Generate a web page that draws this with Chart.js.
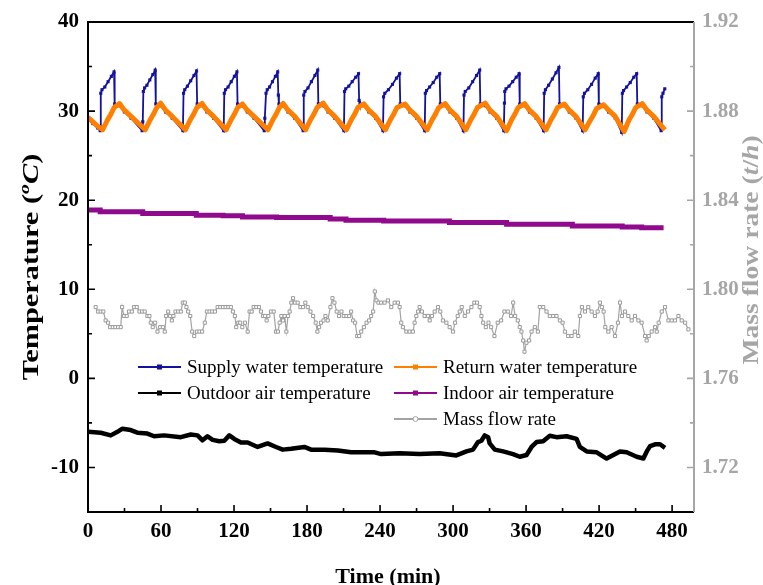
<!DOCTYPE html>
<html>
<head>
<meta charset="utf-8">
<script src="https://cdn.jsdelivr.net/npm/chart.js@4.4.0/dist/chart.umd.min.js"></script>
<style>
  html, body { margin: 0; padding: 0; background: #fff; }
  canvas { display: block; }
</style>
</head>
<body>
<canvas id="chart" width="763" height="585"></canvas>
<script>
/* Supply / return water, indoor / outdoor air and mass flow over 8 hours */

const SERIF = '"Liberation Serif", "Times New Roman", serif';
const SUPPLY = '#12129e';
const RETURN = '#ff8000';
const OUTDOOR = '#000000';
const INDOOR = '#8f0a8c';
const FLOW = '#a3a3a3';
const AXIS_GRAY = '#a6a6a6';

// tick labels
const timeTicks = [0, 60, 120, 180, 240, 300, 360, 420, 480];
const timeMinor = [30, 90, 150, 210, 270, 330, 390, 450];
const tempTicks = [-10, 0, 10, 20, 30, 40];
const tempMinor = [-5, 5, 15, 25, 35];
const flowTicks = [1.72, 1.76, 1.80, 1.84, 1.88, 1.92];
const flowMinor = [1.74, 1.78, 1.82, 1.86, 1.90];

// supply water temperature (min, °C)
const supplyTime = [
    0, 4, 8, 10,
    10.5, 11.5, 13.8, 16.5, 19.2, 21.4, 21.9, 25.9, 29.9, 35.4,
    44.5, 45.0, 45.5, 46.5, 48.4, 50.8, 53.3, 55.2, 55.7, 59.7, 63.7, 69.2,
    78.0, 78.5, 79.5, 81.7, 84.4, 87.1, 89.2, 89.7, 93.7, 97.7, 103.2,
    111.5, 112.0, 113.0, 115.1, 117.7, 120.3, 122.4, 122.9, 126.9, 130.9, 136.4,
    144.8, 145.3, 146.3, 147.3, 149.2, 151.6, 154.0, 155.9, 156.4, 156.9, 160.4, 164.4, 169.9,
    176.8, 177.3, 178.3, 180.8, 183.6, 186.5, 188.8, 189.3, 193.3, 197.3, 202.8,
    210.3, 210.8, 211.8, 214.3, 217.1, 220.0, 222.3, 222.8, 223.5, 226.8, 230.8, 236.3,
    242.4, 242.9, 243.9, 246.9, 250.2, 253.5, 256.1, 256.6, 260.6, 264.6, 270.1,
    276.7, 277.2, 278.2, 280.7, 283.7, 286.6, 289.0, 289.5, 293.5, 297.5, 303.0,
    308.5, 309.0, 310.0, 312.9, 316.1, 319.3, 321.9, 322.4, 326.4, 330.4, 335.9,
    341.7, 342.2, 342.5, 343.5, 346.0, 349.0, 351.9, 354.3, 354.8, 358.8, 362.8, 368.3,
    374.4, 374.9, 375.9, 378.5, 381.6, 384.6, 387.0, 387.5, 391.5, 395.5, 401.0,
    406.5, 407.0, 408.0, 410.7, 413.8, 416.8, 419.3, 419.8, 423.8, 427.8, 433.3,
    438.6, 439.1, 440.1, 442.6, 445.6, 448.5, 450.9, 451.4, 455.4, 459.4, 464.9,
    471.0, 471.5, 472.5, 474.0
];
const supplyTemp = [
    29.1, 28.6, 28.1, 27.8,
    32.0, 32.4, 32.7, 33.3, 33.9, 34.4, 30.8, 30.6, 29.9, 29.2,
    27.8, 28.8, 32.2, 32.6, 32.9, 33.5, 34.1, 34.6, 30.8, 30.6, 29.9, 29.2,
    27.8, 32.0, 32.4, 32.8, 33.4, 34.0, 34.5, 30.8, 30.6, 29.9, 29.2,
    27.8, 32.0, 32.4, 32.7, 33.3, 33.9, 34.4, 30.8, 30.6, 29.9, 29.2,
    27.8, 29.2, 32.0, 32.4, 32.7, 33.3, 33.9, 34.4, 31.8, 30.8, 30.6, 29.9, 29.2,
    27.8, 31.8, 32.2, 32.6, 33.3, 34.0, 34.6, 30.8, 30.6, 29.9, 29.2,
    27.8, 32.2, 32.5, 32.8, 33.3, 33.8, 34.2, 31.2, 30.8, 30.6, 29.9, 29.2,
    27.8, 31.6, 32.0, 32.4, 33.0, 33.7, 34.2, 30.8, 30.6, 29.9, 29.2,
    27.8, 32.0, 32.3, 32.7, 33.2, 33.8, 34.2, 30.8, 30.6, 29.9, 29.2,
    27.8, 31.8, 32.2, 32.6, 33.3, 34.0, 34.6, 30.8, 30.6, 29.9, 29.2,
    27.8, 30.9, 32.2, 32.5, 32.8, 33.3, 33.8, 34.2, 30.8, 30.6, 29.9, 29.2,
    27.8, 32.0, 32.4, 32.9, 33.6, 34.3, 34.9, 30.8, 30.6, 29.9, 29.2,
    27.8, 31.6, 32.0, 32.4, 33.0, 33.7, 34.2, 30.8, 30.6, 29.9, 29.2,
    27.6, 32.0, 32.3, 32.7, 33.2, 33.8, 34.2, 30.8, 30.6, 29.9, 29.2,
    27.8, 31.6, 32.0, 32.5
];

// return water temperature
const returnTime = [
    0, 4, 8,
    12.0, 16.0, 19.0, 21.5, 25.9, 29.9, 35.4,
    47.0, 51.0, 54.0, 56.5, 59.7, 63.7, 69.2,
    80.0, 84.0, 87.0, 89.5, 93.7, 97.7, 103.2,
    113.5, 117.5, 120.5, 123.0, 126.9, 130.9, 136.4,
    147.8, 151.8, 154.8, 157.3, 160.4, 164.4, 169.9,
    178.8, 182.8, 185.8, 188.3, 193.3, 197.3, 202.8,
    212.3, 216.3, 219.3, 221.8, 226.8, 230.8, 236.3,
    244.4, 248.4, 251.4, 253.9, 260.6, 264.6, 270.1,
    278.7, 282.7, 285.7, 288.2, 293.5, 297.5, 303.0,
    310.5, 314.5, 317.5, 320.0, 326.4, 330.4, 335.9,
    344.0, 348.0, 351.0, 353.5, 358.8, 362.8, 368.3,
    376.4, 380.4, 383.4, 385.9, 391.5, 395.5, 401.0,
    408.5, 412.5, 415.5, 418.0, 423.8, 427.8, 433.3,
    440.6, 444.6, 447.6, 450.1, 455.4, 459.4, 464.9,
    474.0
];
const returnTemp = [
    29.3, 28.8, 28.3,
    27.9, 29.0, 29.7, 30.4, 30.85, 30.1, 29.4,
    27.9, 29.0, 29.7, 30.4, 30.9, 30.1, 29.4,
    27.9, 29.0, 29.7, 30.4, 30.85, 30.1, 29.4,
    27.9, 29.0, 29.7, 30.4, 30.8, 30.1, 29.4,
    27.9, 29.0, 29.7, 30.4, 30.85, 30.1, 29.4,
    27.9, 29.0, 29.7, 30.4, 30.9, 30.1, 29.4,
    27.9, 29.0, 29.7, 30.4, 30.8, 30.1, 29.4,
    27.9, 29.0, 29.7, 30.4, 30.8, 30.1, 29.4,
    27.9, 29.0, 29.7, 30.4, 30.85, 30.1, 29.4,
    27.9, 29.0, 29.7, 30.4, 30.9, 30.1, 29.4,
    27.8, 29.0, 29.7, 30.4, 30.85, 30.1, 29.4,
    27.9, 29.0, 29.7, 30.4, 30.8, 30.1, 29.4,
    27.9, 28.9, 29.6, 30.3, 30.7, 30.1, 29.4,
    27.7, 29.0, 29.7, 30.4, 30.85, 30.1, 29.4,
    27.9
];

// indoor air temperature (stepped)
const indoorTime = [0, 10, 45, 89, 111, 127, 155, 199, 212, 243, 297, 344, 398, 439, 455, 473];
const indoorTemp = [18.9, 18.7, 18.5, 18.3, 18.25, 18.1, 18.05, 17.9, 17.75, 17.65, 17.5, 17.3, 17.1, 17.0, 16.9, 16.9];

// outdoor air temperature
const outdoorTime = [
    0, 10.4, 18.7, 24.2, 28.3, 35.1, 40.6, 48.8, 54.3, 62.6,
    76.3, 84.5, 90.0, 94.1, 98.2, 102.4, 107.9, 112.0, 116.1, 120.2,
    125.7, 131.2, 139.4, 147.6, 154.5, 160.0, 166.9, 177.8, 183.3, 194.3,
    205.3, 216.3, 227.2, 235.5, 241.0, 256.0, 272.5, 289.0, 302.7, 311.0,
    316.4, 320.5, 323.3, 326.0, 328.8, 330.1, 334.3, 341.1, 349.3, 354.8,
    360.4, 364.5, 368.6, 374.0, 379.5, 385.0, 393.3, 401.5, 404.2, 409.8,
    418.0, 426.2, 431.7, 437.2, 442.7, 450.9, 456.4, 459.2, 461.9, 466.0,
    470.1, 474.2
];
const outdoorTemp = [
    -6.0, -6.1, -6.4, -6.0, -5.65, -5.8, -6.1, -6.2, -6.5, -6.4,
    -6.6, -6.3, -6.4, -6.95, -6.5, -6.9, -7.05, -7.0, -6.4, -6.8,
    -7.2, -7.2, -7.7, -7.3, -7.7, -8.0, -7.9, -7.7, -8.0, -8.0,
    -8.1, -8.3, -8.3, -8.3, -8.5, -8.4, -8.5, -8.4, -8.65, -8.2,
    -8.0, -7.15, -7.0, -6.4, -6.6, -7.3, -8.0, -8.2, -8.5, -8.8,
    -8.6, -7.7, -7.15, -7.05, -6.45, -6.6, -6.5, -6.8, -7.7, -8.2,
    -8.3, -9.0, -8.6, -8.2, -8.3, -8.8, -9.0, -8.2, -7.6, -7.4,
    -7.4, -7.8
];

// mass flow rate (t/h)
const flowTime = [
    6.3, 8.2, 10.4, 12.6, 14.5, 16.5, 18.1, 20.3, 22.5, 24.7,
    26.9, 28.0, 29.6, 31.8, 33.7, 36.0, 37.9, 40.1, 42.3, 44.5,
    46.6, 48.8, 50.5, 51.6, 53.2, 55.2, 57.1, 59.3, 61.5, 63.1,
    64.2, 65.9, 67.5, 68.9, 70.2, 71.9, 74.1, 76.3, 77.9, 79.6,
    80.9, 82.3, 84.0, 85.6, 87.3, 89.5, 91.6, 93.8, 96.0, 97.7,
    99.9, 102.1, 104.3, 106.5, 108.7, 110.9, 113.1, 115.3, 117.4, 119.1,
    120.7, 121.8, 123.5, 125.1, 126.8, 129.0, 131.2, 132.8, 134.5, 136.1,
    138.3, 140.5, 142.1, 143.8, 145.4, 146.8, 148.2, 150.4, 152.6, 154.5,
    156.1, 157.5, 158.9, 160.3, 161.6, 163.0, 164.4, 165.7, 167.1, 168.5,
    170.1, 172.3, 174.5, 176.7, 178.6, 180.6, 182.8, 185.0, 187.1, 188.5,
    189.9, 191.5, 193.5, 195.1, 197.0, 199.2, 200.9, 202.5, 204.4, 206.3,
    208.3, 210.2, 212.4, 214.6, 216.2, 217.9, 219.5, 221.2, 222.8, 224.5,
    226.7, 228.9, 231.0, 232.7, 234.3, 235.7, 237.1, 238.7, 240.9, 243.7,
    246.5, 249.2, 252.0, 254.7, 256.1, 257.4, 258.8, 261.6, 264.3, 267.0,
    268.4, 269.8, 271.2, 272.5, 274.4, 276.6, 279.4, 280.8, 282.7, 284.9,
    287.6, 289.5, 291.7, 294.5, 297.2, 300.0, 301.6, 303.8, 305.5, 307.1,
    309.6, 312.3, 315.1, 317.5, 319.7, 321.9, 323.3, 324.7, 326.9, 329.1,
    331.3, 334.0, 336.7, 339.5, 342.2, 345.0, 347.7, 349.4, 351.0, 353.2,
    354.8, 356.2, 357.6, 358.7, 360.3, 362.5, 364.5, 367.2, 369.7, 371.3,
    374.1, 376.8, 379.5, 382.3, 385.0, 387.8, 390.0, 391.9, 394.6, 397.4,
    400.1, 402.9, 404.2, 405.9, 408.4, 411.1, 413.9, 416.6, 418.8, 420.7,
    422.3, 423.7, 425.1, 427.6, 430.3, 433.1, 435.5, 437.2, 438.8, 441.3,
    444.0, 446.8, 449.5, 452.3, 455.0, 457.8, 459.1, 460.8, 463.2, 466.0,
    467.4, 469.0, 471.5, 474.2, 477.0, 479.7, 482.4, 485.2, 487.9, 490.7,
    493.4
];
const flowRate = [
    1.792, 1.790, 1.790, 1.790, 1.786, 1.785, 1.783, 1.783, 1.783, 1.783,
    1.783, 1.792, 1.788, 1.788, 1.790, 1.790, 1.792, 1.792, 1.790, 1.790,
    1.790, 1.788, 1.788, 1.785, 1.783, 1.785, 1.781, 1.783, 1.783, 1.781,
    1.788, 1.790, 1.788, 1.786, 1.788, 1.790, 1.790, 1.790, 1.794, 1.794,
    1.792, 1.790, 1.788, 1.781, 1.779, 1.781, 1.781, 1.781, 1.785, 1.790,
    1.790, 1.790, 1.790, 1.792, 1.792, 1.792, 1.792, 1.792, 1.792, 1.790,
    1.788, 1.783, 1.785, 1.785, 1.783, 1.785, 1.781, 1.790, 1.790, 1.792,
    1.792, 1.792, 1.790, 1.788, 1.788, 1.786, 1.788, 1.790, 1.790, 1.781,
    1.781, 1.785, 1.788, 1.786, 1.788, 1.781, 1.788, 1.790, 1.794, 1.796,
    1.794, 1.794, 1.792, 1.792, 1.794, 1.792, 1.790, 1.788, 1.785, 1.781,
    1.783, 1.785, 1.786, 1.788, 1.786, 1.792, 1.796, 1.794, 1.790, 1.788,
    1.790, 1.788, 1.788, 1.788, 1.790, 1.786, 1.785, 1.779, 1.779, 1.781,
    1.783, 1.785, 1.786, 1.788, 1.790, 1.799, 1.795, 1.794, 1.794, 1.794,
    1.795, 1.792, 1.794, 1.794, 1.792, 1.785, 1.783, 1.781, 1.781, 1.781,
    1.785, 1.788, 1.790, 1.792, 1.790, 1.788, 1.788, 1.786, 1.788, 1.790,
    1.792, 1.790, 1.786, 1.785, 1.783, 1.781, 1.785, 1.788, 1.790, 1.792,
    1.788, 1.790, 1.792, 1.794, 1.794, 1.792, 1.788, 1.785, 1.783, 1.785,
    1.783, 1.779, 1.785, 1.786, 1.790, 1.790, 1.788, 1.794, 1.788, 1.786,
    1.783, 1.781, 1.777, 1.772, 1.776, 1.777, 1.781, 1.783, 1.781, 1.792,
    1.792, 1.790, 1.788, 1.788, 1.788, 1.786, 1.785, 1.781, 1.779, 1.779,
    1.781, 1.779, 1.788, 1.792, 1.790, 1.792, 1.790, 1.788, 1.790, 1.794,
    1.792, 1.790, 1.783, 1.781, 1.783, 1.779, 1.785, 1.794, 1.788, 1.790,
    1.788, 1.786, 1.788, 1.786, 1.785, 1.779, 1.777, 1.779, 1.781, 1.783,
    1.781, 1.785, 1.790, 1.792, 1.786, 1.786, 1.786, 1.788, 1.786, 1.785,
    1.782
];

const legendItems = [
    { label: 'Supply water temperature', color: SUPPLY, col: 0, row: 0, marker: 'rect' },
    { label: 'Return water temperature', color: RETURN, col: 1, row: 0, marker: 'rect' },
    { label: 'Outdoor air temperature', color: OUTDOOR, col: 0, row: 1, marker: 'rect' },
    { label: 'Indoor air temperature', color: INDOOR, col: 1, row: 1, marker: 'rect' },
    { label: 'Mass flow rate', color: FLOW, col: 1, row: 2, marker: 'circle' },
];

const pts = (xs, ys) => xs.map((x, i) => ({ x, y: ys[i] }));

// draws a run of differently styled text pieces centred on (cx, cy)
function drawRich(ctx, parts, cx, cy, rot, stretch, color) {
    ctx.save();
    ctx.translate(cx, cy);
    ctx.rotate(rot);
    ctx.scale(stretch, 1);
    ctx.fillStyle = color;
    ctx.textBaseline = 'alphabetic';
    ctx.textAlign = 'left';
    let total = 0;
    parts.forEach(p => { ctx.font = p.font; p.w = ctx.measureText(p.t).width; total += p.w; });
    let px = -total / 2;
    parts.forEach(p => { ctx.font = p.font; ctx.fillText(p.t, px, 8 + (p.dy || 0)); px += p.w; });
    ctx.restore();
}

const axisFrame = {
    id: 'axisFrame',
    afterDraw(chart) {
        const { ctx, chartArea: a } = chart;
        const { x, y, y1 } = chart.scales;
        ctx.save();

        // inward ticks
        ctx.lineWidth = 1.6;
        ctx.strokeStyle = '#000';
        ctx.beginPath();
        tempTicks.forEach(v => { const p = y.getPixelForValue(v); ctx.moveTo(a.left, p); ctx.lineTo(a.left + 7, p); });
        tempMinor.forEach(v => { const p = y.getPixelForValue(v); ctx.moveTo(a.left, p); ctx.lineTo(a.left + 4, p); });
        timeTicks.forEach(v => { const p = x.getPixelForValue(v); ctx.moveTo(p, a.bottom); ctx.lineTo(p, a.bottom - 7); });
        timeMinor.forEach(v => { const p = x.getPixelForValue(v); ctx.moveTo(p, a.bottom); ctx.lineTo(p, a.bottom - 4); });
        ctx.stroke();
        ctx.strokeStyle = AXIS_GRAY;
        ctx.beginPath();
        flowTicks.forEach(v => { const p = y1.getPixelForValue(v); ctx.moveTo(a.right, p); ctx.lineTo(a.right - 7, p); });
        flowMinor.forEach(v => { const p = y1.getPixelForValue(v); ctx.moveTo(a.right, p); ctx.lineTo(a.right - 4, p); });
        ctx.stroke();

        // frame
        ctx.lineWidth = 2;
        ctx.strokeStyle = '#000';
        ctx.beginPath();
        ctx.moveTo(a.right, a.top);
        ctx.lineTo(a.left, a.top);
        ctx.lineTo(a.left, a.bottom);
        ctx.lineTo(a.right, a.bottom);
        ctx.stroke();
        ctx.strokeStyle = AXIS_GRAY;
        ctx.beginPath();
        ctx.moveTo(a.right, a.top);
        ctx.lineTo(a.right, a.bottom);
        ctx.stroke();

        // legend
        const colX = [138, 394];
        const rowY = [367, 393, 419];
        ctx.font = '19px ' + SERIF;
        ctx.textBaseline = 'middle';
        ctx.textAlign = 'left';
        legendItems.forEach(it => {
            const x0 = colX[it.col], yy = rowY[it.row];
            ctx.strokeStyle = it.color;
            ctx.lineWidth = 2;
            ctx.beginPath();
            ctx.moveTo(x0, yy);
            ctx.lineTo(x0 + 43, yy);
            ctx.stroke();
            if (it.marker === 'rect') {
                ctx.fillStyle = it.color;
                ctx.fillRect(x0 + 19, yy - 2.5, 5, 5);
            } else {
                ctx.fillStyle = '#fff';
                ctx.lineWidth = 1;
                ctx.beginPath();
                ctx.arc(x0 + 21.5, yy, 2.5, 0, Math.PI * 2);
                ctx.fill();
                ctx.stroke();
            }
            ctx.fillStyle = '#000';
            ctx.fillText(it.label, x0 + 49, yy + 1);
        });

        // axis titles
        const B = 'bold 23px ' + SERIF;
        const BI = 'italic bold 23px ' + SERIF;
        drawRich(ctx, [
            { t: 'Temperature (', font: B },
            { t: 'o', font: 'italic bold 15px ' + SERIF, dy: -9 },
            { t: 'C', font: BI },
            { t: ')', font: B },
        ], 30, 267, -Math.PI / 2, 1.32, '#000');
        drawRich(ctx, [
            { t: 'Mass flow rate (', font: B },
            { t: 't', font: BI },
            { t: '/', font: B },
            { t: 'h', font: BI },
            { t: ')', font: B },
        ], 750, 250, -Math.PI / 2, 1.2, AXIS_GRAY);
        drawRich(ctx, [{ t: 'Time (min)', font: 'bold 22px ' + SERIF }], 388, 575, 0, 1, '#000');

        ctx.restore();
    }
};

const tickFont = { family: SERIF, size: 21, weight: 'bold' };

new Chart(document.getElementById('chart').getContext('2d'), {
    type: 'line',
    data: {
        datasets: [
            {
                label: 'Mass flow rate',
                data: pts(flowTime, flowRate),
                yAxisID: 'y1',
                borderColor: FLOW,
                borderWidth: 1.2,
                pointStyle: 'rect',
                pointRadius: 2.2,
                pointBorderWidth: 1,
                pointBorderColor: '#9a9a9a',
                pointBackgroundColor: '#fff',
                order: 0,
            },
            {
                label: 'Return water temperature',
                data: pts(returnTime, returnTemp),
                yAxisID: 'y',
                borderColor: RETURN,
                borderWidth: 5,
                pointRadius: 0,
                borderJoinStyle: 'round',
                order: 1,
            },
            {
                label: 'Supply water temperature',
                data: pts(supplyTime, supplyTemp),
                yAxisID: 'y',
                borderColor: SUPPLY,
                borderWidth: 1.8,
                pointStyle: 'rect',
                pointRadius: 2.2,
                pointBorderWidth: 0,
                pointBackgroundColor: SUPPLY,
                order: 2,
            },
            {
                label: 'Indoor air temperature',
                data: pts(indoorTime, indoorTemp),
                yAxisID: 'y',
                borderColor: INDOOR,
                borderWidth: 5,
                stepped: true,
                pointRadius: 0,
                order: 3,
            },
            {
                label: 'Outdoor air temperature',
                data: pts(outdoorTime, outdoorTemp),
                yAxisID: 'y',
                borderColor: OUTDOOR,
                borderWidth: 4.5,
                borderJoinStyle: 'round',
                pointRadius: 0,
                order: 4,
            },
        ],
    },
    options: {
        responsive: false,
        animation: false,
        devicePixelRatio: 1,
        layout: { padding: { top: 22, left: 0, right: 0, bottom: 0 } },
        plugins: { legend: { display: false }, tooltip: { enabled: false } },
        elements: { line: { tension: 0, fill: false } },
        scales: {
            x: {
                type: 'linear',
                min: 0,
                max: 498,
                afterBuildTicks: s => { s.ticks = timeTicks.map(v => ({ value: v })); },
                afterFit: s => { s.height = 73; },
                grid: { display: false, drawTicks: false },
                border: { display: false },
                ticks: { color: '#000', font: tickFont, padding: 7, maxRotation: 0, autoSkip: false },
            },
            y: {
                position: 'left',
                min: -15,
                max: 40,
                afterBuildTicks: s => { s.ticks = tempTicks.map(v => ({ value: v })); },
                afterFit: s => { s.width = 88; },
                grid: { display: false, drawTicks: false },
                border: { display: false },
                ticks: { color: '#000', font: tickFont, padding: 9 },
            },
            y1: {
                position: 'right',
                min: 1.70,
                max: 1.92,
                afterBuildTicks: s => { s.ticks = flowTicks.map(v => ({ value: v })); },
                afterFit: s => { s.width = 69; },
                grid: { display: false, drawTicks: false },
                border: { display: false },
                ticks: { color: AXIS_GRAY, font: tickFont, padding: 8, callback: v => Number(v).toFixed(2) },
            },
        },
    },
    plugins: [axisFrame],
});
</script>
</body>
</html>
